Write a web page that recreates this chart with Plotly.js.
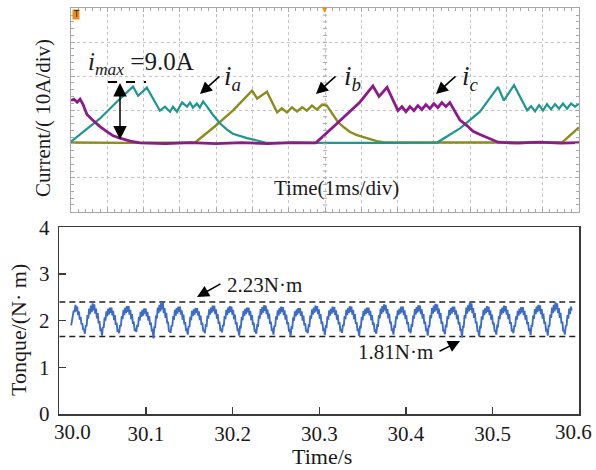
<!DOCTYPE html>
<html>
<head>
<meta charset="utf-8">
<script src="https://cdn.plot.ly/plotly-3.0.1.min.js"></script>
<style>html,body{margin:0;padding:0;background:#fff;}#chart{width:596px;height:470px;}</style>
</head>
<body>
<div id="chart"></div>
<script>
// ---------- Top panel: phase currents (time in ms, current in A; 1 ms/div, 10 A/div)
const ia_t = [0.00,0.80,1.30,1.71,1.85,2.09,2.45,2.59,2.73,2.81,2.92,3.06,3.20,3.28,3.36,3.47,3.55,3.64,3.75,3.91,4.11,4.30,4.46,4.66,4.85,5.13,5.35,6.2,7.4,8.6,10.09,10.72,11.27,11.77,11.93,12.21,12.57,12.68,12.79,12.90,13.01,13.12,13.23,13.34,13.45,13.56,13.67,13.78,13.89,14.0];
const ia_A = [0.7,7.5,12.8,16.9,14.2,16.6,9.8,11.0,9.5,11.0,9.5,12.2,11.0,12.2,10.7,11.9,10.7,12.5,11.0,8.6,6.0,4.2,3.0,2.3,1.7,1.0,0.4,0.3,0.4,0.3,0.4,4.6,9.5,16.8,12.8,17.3,9.9,11.1,9.6,11.4,9.9,11.7,10.2,11.7,10.4,11.9,10.4,11.9,11.0,11.9];

const ib_t = [0.00,1.5,3.42,3.97,4.46,4.99,5.13,5.40,5.68,5.81,5.95,6.09,6.23,6.37,6.50,6.64,6.78,6.92,7.05,7.22,7.36,7.52,7.69,7.88,8.05,8.24,8.43,8.65,10.5,12.0,13.53,14.0];
const ib_A = [0.4,0.3,0.4,5.2,9.8,15.7,13.4,15.4,9.3,10.5,9.3,10.8,9.6,10.8,9.8,11.3,10.1,11.6,11.3,8.6,6.4,4.9,3.5,2.6,2.0,1.4,0.8,0.4,0.3,0.4,0.4,4.9];

const ic_t = [0.00,0.08,0.17,0.25,0.33,0.44,0.61,0.80,0.99,1.16,1.35,1.63,1.90,2.6,3.3,4.0,4.7,5.4,6.1,6.75,7.33,7.96,8.32,8.49,8.71,9.01,9.12,9.23,9.34,9.45,9.56,9.67,9.78,9.89,10.00,10.11,10.22,10.33,10.44,10.58,10.72,10.91,11.08,11.27,11.49,11.77,12.3,12.9,13.5,14.0];
const ic_A = [12.8,13.2,12.3,13.2,11.7,8.7,6.9,5.1,3.6,2.4,1.7,0.8,0.3,0.1,0.4,0.1,0.4,0.1,0.4,0.3,6.0,12.3,17.1,14.0,16.7,9.8,11.0,9.5,11.0,9.8,11.3,10.1,11.6,10.4,11.9,10.7,12.2,11.0,12.2,9.5,7.0,5.4,3.7,2.8,1.7,0.5,0.2,0.5,0.2,0.4];

// ---------- Bottom panel: torque (N·m) sampled from torqueStart with step torqueStep (s)
const torqueStart = 30.0137;
const torqueStep = 0.000989;
const torque = [
 1.90,2.02,2.08,2.22,2.18,2.34,2.20,2.30,2.12,2.20,2.02,2.08,1.92,1.94,1.80,1.82,
 1.72,1.90,1.88,2.12,2.04,2.26,2.14,2.32,2.18,2.37,2.22,2.35,2.15,2.26,2.05,2.16,1.94,1.99,1.80,1.81,
 1.68,1.87,1.85,2.07,2.00,2.20,2.09,2.25,2.13,2.28,2.17,2.28,2.11,2.21,2.01,2.12,1.91,1.96,1.78,1.79,
 1.73,1.90,1.88,2.10,2.03,2.23,2.12,2.28,2.16,2.31,2.19,2.31,2.13,2.23,2.03,2.14,1.93,1.98,1.80,1.81,
 1.76,1.91,1.87,2.08,2.00,2.19,2.08,2.23,2.11,2.26,2.15,2.26,2.09,2.19,2.00,2.10,1.91,1.96,1.79,1.80,
 1.62,1.86,1.86,2.11,2.05,2.28,2.16,2.34,2.20,2.40,2.24,2.38,2.16,2.27,2.06,2.17,1.94,1.98,1.78,1.77,
 1.74,1.90,1.88,2.10,2.02,2.23,2.11,2.27,2.15,2.30,2.19,2.30,2.13,2.22,2.02,2.13,1.92,1.97,1.80,1.81,
 1.70,1.88,1.86,2.08,2.01,2.21,2.10,2.24,2.13,2.27,2.17,2.27,2.11,2.20,2.01,2.11,1.91,1.96,1.79,1.79,
 1.73,1.90,1.89,2.11,2.04,2.24,2.13,2.28,2.17,2.32,2.20,2.32,2.14,2.24,2.04,2.14,1.93,1.98,1.80,1.81,
 1.75,1.91,1.88,2.10,2.03,2.23,2.12,2.28,2.16,2.31,2.19,2.30,2.13,2.23,2.03,2.13,1.92,1.97,1.80,1.81,
 1.68,1.87,1.86,2.08,2.01,2.21,2.10,2.25,2.14,2.28,2.18,2.28,2.11,2.21,2.01,2.12,1.91,1.96,1.78,1.79,
 1.72,1.90,1.89,2.11,2.04,2.25,2.13,2.29,2.17,2.33,2.21,2.32,2.14,2.24,2.04,2.15,1.93,1.98,1.80,1.81,
 1.70,1.89,1.87,2.09,2.02,2.22,2.11,2.27,2.15,2.30,2.19,2.29,2.12,2.22,2.02,2.13,1.92,1.97,1.79,1.80,
 1.66,1.86,1.85,2.07,2.00,2.20,2.09,2.24,2.13,2.27,2.16,2.27,2.10,2.20,2.00,2.11,1.90,1.95,1.78,1.78,
 1.73,1.90,1.89,2.11,2.04,2.24,2.13,2.28,2.17,2.32,2.20,2.31,2.14,2.24,2.04,2.14,1.93,1.98,1.80,1.81,
 1.69,1.88,1.87,2.09,2.02,2.22,2.11,2.26,2.15,2.30,2.18,2.29,2.12,2.22,2.02,2.13,1.92,1.97,1.79,1.80,
 1.74,1.91,1.88,2.10,2.03,2.23,2.12,2.27,2.16,2.31,2.19,2.30,2.13,2.23,2.03,2.14,1.93,1.97,1.80,1.81,
 1.67,1.87,1.86,2.08,2.01,2.21,2.10,2.25,2.14,2.28,2.17,2.28,2.11,2.21,2.01,2.12,1.91,1.96,1.78,1.79,
 1.72,1.90,1.89,2.12,2.05,2.26,2.14,2.31,2.18,2.35,2.22,2.34,2.15,2.25,2.05,2.15,1.94,1.98,1.80,1.81,
 1.70,1.88,1.87,2.09,2.03,2.22,2.12,2.26,2.15,2.30,2.18,2.30,2.12,2.22,2.03,2.12,1.92,1.97,1.79,1.80,
 1.73,1.90,1.89,2.11,2.04,2.25,2.13,2.29,2.17,2.33,2.20,2.32,2.14,2.24,2.04,2.14,1.93,1.98,1.80,1.81,
 1.68,1.88,1.88,2.12,2.05,2.27,2.15,2.32,2.19,2.36,2.22,2.35,2.15,2.26,2.05,2.16,1.93,1.98,1.79,1.79,
 1.71,1.89,1.88,2.10,2.03,2.23,2.12,2.27,2.15,2.30,2.19,2.30,2.13,2.22,2.03,2.13,1.92,1.97,1.80,1.80,
 1.64,1.87,1.87,2.12,2.05,2.28,2.15,2.33,2.20,2.38,2.23,2.37,2.16,2.27,2.06,2.16,1.94,1.98,1.78,1.77,
 1.66,1.87,1.86,2.09,2.02,2.23,2.12,2.27,2.16,2.31,2.19,2.30,2.12,2.22,2.02,2.13,1.92,1.96,1.78,1.78,
 1.70,1.89,1.88,2.10,2.03,2.24,2.13,2.28,2.16,2.32,2.20,2.31,2.13,2.23,2.03,2.14,1.93,1.97,1.79,1.80,
 1.73,1.90,1.87,2.09,2.02,2.21,2.11,2.26,2.14,2.29,2.18,2.29,2.12,2.21,2.02,2.12,1.92,1.97,1.80,1.81,
 1.69,1.89,1.89,2.11,2.04,2.25,2.14,2.30,2.18,2.34,2.21,2.33,2.14,2.25,2.04,2.15,1.93,1.98,1.79,1.80,
 1.68,1.89,1.89,2.13,2.06,2.28,2.16,2.34,2.20,2.39,2.24,2.37,2.16,2.27,2.06,2.17,1.94,1.98,1.79,1.79,
 1.70,1.88,1.90,2.12,2.04,2.26,2.14,2.30,2.22
];
const torqueUpper = 2.40;
const torqueLower = 1.66;
const xTickVals = [30.0,30.1,30.2,30.3,30.4,30.5,30.6];
const xTickLabels = ['30.0','30.1','30.2','30.3','30.4','30.5','30.6'];
const yTickVals = [0,1,2,3,4];

const torqueT = torque.map((_, i) => torqueStart + i * torqueStep);

const W = 596, H = 470;
const px = x => x / W;
const py = y => 1 - y / H;
const serif = 'Liberation Serif, Times New Roman, serif';
const ink = '#1a1a1a';

const traces = [
  {x: ib_t, y: ib_A, xaxis: 'x', yaxis: 'y', mode: 'lines', line: {color: '#8c8c1c', width: 2.4}, hoverinfo: 'skip'},
  {x: ia_t, y: ia_A, xaxis: 'x', yaxis: 'y', mode: 'lines', line: {color: '#1f9690', width: 2.2}, hoverinfo: 'skip'},
  {x: ic_t, y: ic_A, xaxis: 'x', yaxis: 'y', mode: 'lines', line: {color: '#8c1a8a', width: 2.8}, hoverinfo: 'skip'},
  {x: [30.0, 30.6], y: [torqueUpper, torqueUpper], xaxis: 'x2', yaxis: 'y2', mode: 'lines', line: {color: '#222', width: 1.3, dash: '6px,4px'}, hoverinfo: 'skip'},
  {x: [30.0, 30.6], y: [torqueLower, torqueLower], xaxis: 'x2', yaxis: 'y2', mode: 'lines', line: {color: '#222', width: 1.3, dash: '6px,4px'}, hoverinfo: 'skip'},
  {x: torqueT, y: torque, xaxis: 'x2', yaxis: 'y2', mode: 'lines', line: {color: '#3d6cc6', width: 1.9}, hoverinfo: 'skip'}
];

const gridCol = '#c4c4c4', borderCol = '#a8a8a8';
const shapes = [];
// scope centre-line tick marks
for (let v = -20; v <= 40; v += 2) {
  shapes.push({type: 'line', xref: 'x', yref: 'y', x0: 6.94, x1: 7.06, y0: v, y1: v, line: {color: borderCol, width: 1}});
}
// i_max dashed level
shapes.push({type: 'line', xref: 'paper', yref: 'paper', x0: px(108), x1: px(146), y0: py(82), y1: py(82), line: {color: '#000', width: 2, dash: 'dash'}});

const ann = [];
const txt = (text, x, y, size, opts) => Object.assign({text, xref: 'paper', yref: 'paper', x: px(x), y: py(y), showarrow: false, xanchor: 'center', yanchor: 'middle', font: {family: serif, size, color: ink}}, opts || {});
const arrow = (hx, hy, tx, ty, opts) => Object.assign({text: '', xref: 'paper', yref: 'paper', x: px(hx), y: py(hy), ax: tx - hx, ay: ty - hy, showarrow: true, arrowhead: 2, arrowsize: 1.6, arrowwidth: 1.5, arrowcolor: '#000'}, opts || {});

ann.push(txt('Current/( 10A/div)', 43, 118, 21, {textangle: -90}));
ann.push(txt('Time(1ms/div)', 336, 188, 21));
ann.push(txt('<i>i</i><sub><i>max</i></sub> =9.0A', 141, 63, 25));
ann.push(txt('<i>i<sub>a</sub></i>', 232, 78, 27));
ann.push(txt('<i>i<sub>b</sub></i>', 353, 78, 27));
ann.push(txt('<i>i<sub>c</sub></i>', 470, 78, 27));
ann.push(arrow(200, 94, 221, 75));
ann.push(arrow(316, 94, 337, 75));
ann.push(arrow(436, 94, 457, 75));
ann.push(arrow(120, 83, 120, 141, {arrowside: 'end+start', startarrowhead: 2, startarrowsize: 1.8, arrowsize: 1.8, arrowwidth: 1.5}));
ann.push(txt('T', 76, 15, 8, {font: {family: 'DejaVu Sans', size: 8, color: '#222'}, bgcolor: '#f08c10', borderpad: 0}));
ann.push(txt('\u25BC', 325, 10, 7, {font: {family: 'DejaVu Sans', size: 7, color: '#f08c10'}}));

ann.push(txt('Tonque/(N\u00B7 m)', 18, 330, 22, {textangle: -90}));
ann.push(txt('Time/s', 322, 456, 22));
ann.push(txt('2.23N\u00B7m', 264, 285, 21));
ann.push(txt('1.81N\u00B7m', 395, 352, 21));
ann.push(arrow(197, 297, 222, 283));
ann.push(arrow(460, 341, 438, 352));
// end tick labels, set in from the corners as in the source figure
ann.push(Object.assign(txt(xTickLabels[0], 0, 432, 21), {xref: 'x2', x: xTickVals[0], xshift: 13}));
ann.push(Object.assign(txt(xTickLabels[6], 0, 432, 21), {xref: 'x2', x: xTickVals[6], xshift: -6}));

const layout = {
  width: W, height: H,
  margin: {l: 0, r: 0, t: 0, b: 0},
  paper_bgcolor: '#fff', plot_bgcolor: '#fff',
  showlegend: false,
  xaxis: {
    domain: [px(71), px(579)], range: [0, 14], tick0: 0, dtick: 1,
    showgrid: true, gridcolor: gridCol, griddash: 'dot', gridwidth: 1,
    zeroline: false, showline: true, linecolor: borderCol, linewidth: 1, mirror: 'allticks',
    ticks: 'inside', ticklen: 4, tickcolor: borderCol, showticklabels: false,
    minor: {dtick: 0.2, ticks: 'inside', ticklen: 3, tickcolor: borderCol, showgrid: false},
    anchor: 'y', fixedrange: true
  },
  yaxis: {
    domain: [py(211.7), py(8.3)], range: [-20, 40], tick0: 0, dtick: 10,
    showgrid: true, gridcolor: gridCol, griddash: 'dot', gridwidth: 1,
    zeroline: false, showline: true, linecolor: borderCol, linewidth: 1, mirror: 'allticks',
    ticks: 'inside', ticklen: 4, tickcolor: borderCol, showticklabels: false,
    minor: {dtick: 2, ticks: 'inside', ticklen: 3, tickcolor: borderCol, showgrid: false},
    anchor: 'x', fixedrange: true
  },
  xaxis2: {
    domain: [px(59.3), px(579.3)], range: [30.0, 30.6],
    tickvals: xTickVals, ticktext: xTickLabels.map((s, i) => (i === 0 || i === xTickLabels.length - 1) ? '' : s),
    showgrid: false, zeroline: false, showline: true, linecolor: '#3a3a3a', linewidth: 1.6, mirror: true,
    ticks: 'inside', ticklen: 7, tickwidth: 1.5, tickcolor: '#3a3a3a',
    tickfont: {family: serif, size: 21, color: ink}, ticklabelstandoff: 0,
    anchor: 'y2', fixedrange: true
  },
  yaxis2: {
    domain: [py(414), py(227.3)], range: [0, 4], tickvals: yTickVals,
    showgrid: false, zeroline: false, showline: true, linecolor: '#3a3a3a', linewidth: 1.6, mirror: true,
    ticks: 'inside', ticklen: 7, tickwidth: 1.5, tickcolor: '#3a3a3a',
    tickfont: {family: serif, size: 21, color: ink}, ticklabelstandoff: 4,
    anchor: 'x2', fixedrange: true
  },
  shapes: shapes,
  annotations: ann
};

Plotly.newPlot('chart', traces, layout, {staticPlot: true, displayModeBar: false});
</script>
</body>
</html>
